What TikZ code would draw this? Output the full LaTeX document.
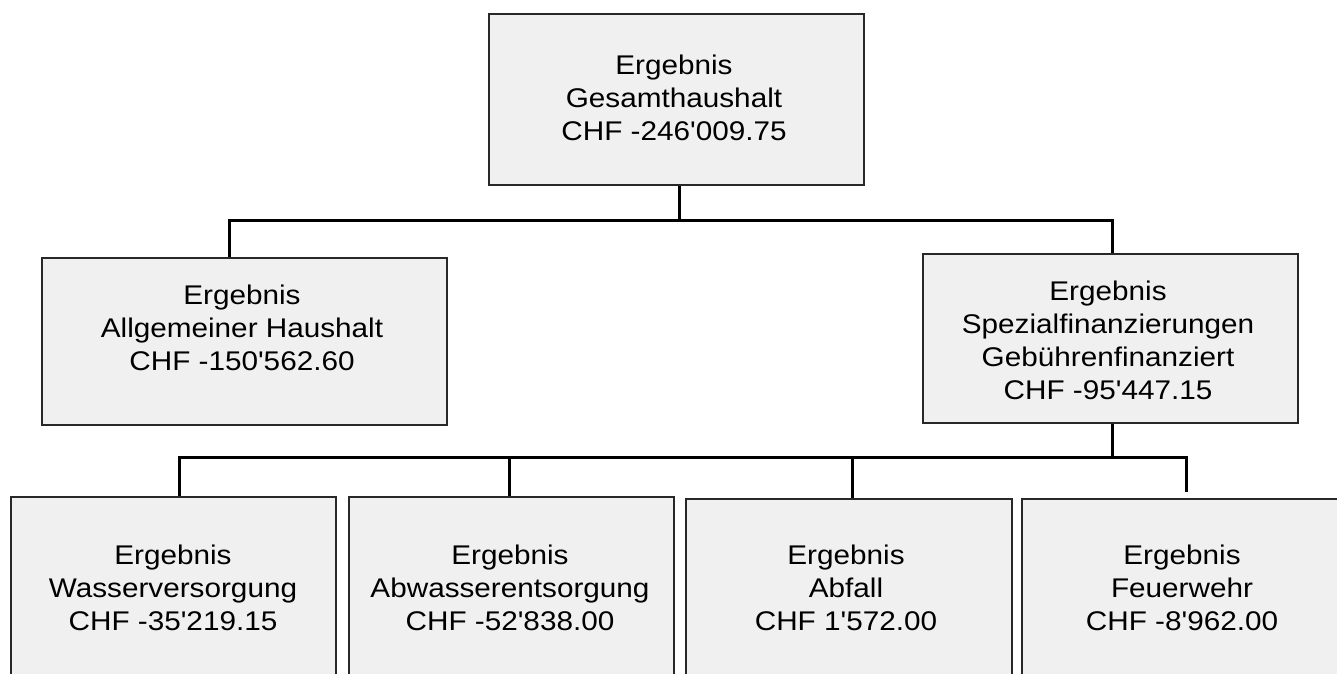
\documentclass[tikz,border=0pt]{standalone}
\usepackage{fontspec}
\setmainfont{Liberation Sans}[FakeStretch=1.1, Ligatures=TeXOff]
\definecolor{boxfill}{RGB}{240,240,240}
\definecolor{boxline}{RGB}{40,40,40}
\tikzset{
  box/.style={draw=boxline, fill=boxfill, line width=2pt, rectangle, inner sep=0pt},
  lbl/.style={align=center, inner sep=0pt, font=\fontsize{27}{33}\selectfont, text=black},
  conn/.style={draw=black, line width=3pt, line join=miter},
}
\begin{document}
\begin{tikzpicture}[x=1pt,y=-1pt]
\useasboundingbox (0,0) rectangle (1337,673);
\fill[white] (0,0) rectangle (1337,673);
\clip (0,0) rectangle (1337,673);
% boxes
\node[box, minimum width=375pt, minimum height=171pt] (top) at (676.5,99.5) {};
\node[box, minimum width=405pt, minimum height=167pt] (allg) at (244.5,341.5) {};
\node[box, minimum width=375pt, minimum height=169pt] (spez) at (1110.5,338.5) {};
\node[box, minimum width=325pt, minimum height=250pt, anchor=north] (wass) at (173.5,496) {};
\node[box, minimum width=325pt, minimum height=250pt, anchor=north] (abw) at (511.5,496) {};
\node[box, minimum width=326pt, minimum height=250pt, anchor=north] (abf) at (849,498) {};
\node[box, minimum width=325pt, minimum height=250pt, anchor=north] (feu) at (1184.5,498) {};
% labels
\node[lbl] (ttop) at (674,97.5) {Ergebnis\\Gesamthaushalt\\CHF -246'009.75};
\node[lbl] (tallg) at (242,327.5) {Ergebnis\\Allgemeiner Haushalt\\CHF -150'562.60};
\node[lbl] (tspez) at (1108,340.5) {Ergebnis\\Spezialfinanzierungen\\Gebührenfinanziert\\CHF -95'447.15};
\node[lbl] (twass) at (173,587.5) {Ergebnis\\Wasserversorgung\\CHF -35'219.15};
\node[lbl] (tabw) at (510,587.5) {Ergebnis\\Abwasserentsorgung\\CHF -52'838.00};
\node[lbl] (tabf) at (846,587.5) {Ergebnis\\Abfall\\CHF 1'572.00};
\node[lbl] (tfeu) at (1182,587.5) {Ergebnis\\Feuerwehr\\CHF -8'962.00};
% connector coordinates
\coordinate (j0) at (679,220);
\coordinate (bL) at (229,220);
\coordinate (bR) at (1112,220);
\coordinate (d1) at (179,457);
\coordinate (d2) at (509,457);
\coordinate (d3) at (852,457);
\coordinate (d4) at (1186,457);
\coordinate (fstub) at (1186,492);
% connectors
\draw[conn] (j0 |- top.south) -- (j0);
\draw[conn] (allg.north -| bL) -- (bL) -- (bR) -- (spez.north -| bR);
\draw[conn] (bR |- spez.south) -- (bR |- d1);
\draw[conn] (wass.north -| d1) -- (d1) -- (d4) -- (fstub);
\draw[conn] (d2) -- (abw.north -| d2);
\draw[conn] (d3) -- (abf.north -| d3);
\end{tikzpicture}
\end{document}
